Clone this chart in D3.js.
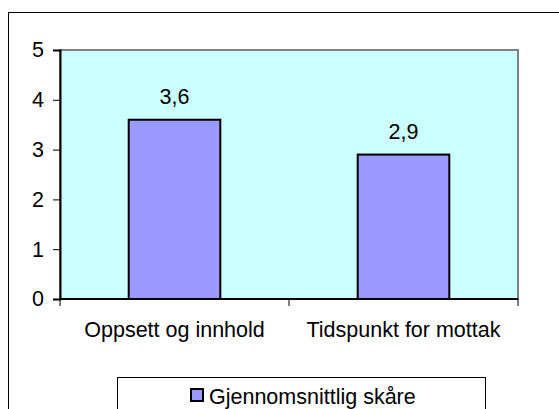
<!DOCTYPE html>
<html>
<head>
<meta charset="utf-8">
<script src="https://cdn.jsdelivr.net/npm/d3@7"></script>
<style>
  html, body { margin: 0; padding: 0; background: #fff; }
  text { font-family: Arial, "Liberation Sans", sans-serif; fill: #000; }
</style>
</head>
<body>
<div id="chart"></div>
<script>
// data
const categories = ["Oppsett og innhold", "Tidspunkt for mottak"];
const scores = [3.6, 2.9];
const seriesName = "Gjennomsnittlig skåre";
const yTicks = [0, 1, 2, 3, 4, 5];

const width = 559;
const height = 409;
const plot = { left: 60, right: 518, top: 50, bottom: 299 };
const fontSize = 21.5;

const svg = d3.select("#chart")
    .append("svg")
    .attr("width", width)
    .attr("height", height);

// outer chart frame (runs off the right and bottom edges)
svg.append("rect")
    .attr("x", 8.5)
    .attr("y", 12.5)
    .attr("width", 700)
    .attr("height", 600)
    .attr("fill", "#fff")
    .attr("stroke", "#000")
    .attr("stroke-width", 1);

const x = d3.scaleBand()
    .domain(categories)
    .range([plot.left, plot.right])
    .paddingInner(0)
    .paddingOuter(0);

const y = d3.scaleLinear()
    .domain([0, 5])
    .range([plot.bottom, plot.top]);

// plot area
svg.append("rect")
    .attr("x", plot.left)
    .attr("y", plot.top)
    .attr("width", plot.right - plot.left)
    .attr("height", plot.bottom - plot.top)
    .attr("fill", "#CCFFFF")
    .attr("stroke", "#808080")
    .attr("stroke-width", 2);

// bars
const barW = x.bandwidth() * 0.4;
svg.selectAll("rect.bar")
    .data(scores)
    .enter().append("rect")
    .attr("class", "bar")
    .attr("x", (d, i) => x(categories[i]) + (x.bandwidth() - barW) / 2)
    .attr("y", d => y(d))
    .attr("width", barW)
    .attr("height", d => y(0) - y(d))
    .attr("fill", "#9999FF")
    .attr("stroke", "#000")
    .attr("stroke-width", 2);

// value labels
svg.selectAll("text.val")
    .data(scores)
    .enter().append("text")
    .attr("class", "val")
    .attr("x", (d, i) => x(categories[i]) + x.bandwidth() / 2)
    .attr("y", d => y(d) - 16)
    .attr("text-anchor", "middle")
    .attr("font-size", fontSize)
    .text(d => d3.format(".1f")(d).replace(".", ","));

// y axis
const yAxis = d3.axisLeft(y)
    .tickValues(yTicks)
    .tickSize(7)
    .tickPadding(9)
    .tickFormat(d3.format("d"));

const gy = svg.append("g")
    .attr("transform", `translate(${plot.left},0)`)
    .call(yAxis);
gy.select(".domain").attr("stroke", "#000").attr("stroke-width", 2);
gy.selectAll(".tick line").attr("stroke", "#000");
gy.selectAll(".tick text")
    .attr("font-size", fontSize)
    .attr("font-family", "Arial, 'Liberation Sans', sans-serif")
    .attr("fill", "#000");

// x axis: line plus boundary ticks
svg.append("line")
    .attr("x1", plot.left)
    .attr("x2", plot.right)
    .attr("y1", plot.bottom)
    .attr("y2", plot.bottom)
    .attr("stroke", "#000")
    .attr("stroke-width", 2);

const bounds = categories.map(c => x(c)).concat([plot.right]);
svg.selectAll("line.xtick")
    .data(bounds)
    .enter().append("line")
    .attr("class", "xtick")
    .attr("x1", d => d)
    .attr("x2", d => d)
    .attr("y1", plot.bottom)
    .attr("y2", plot.bottom + 7)
    .attr("stroke", "#000")
    .attr("stroke-width", 1);

svg.selectAll("text.cat")
    .data(categories)
    .enter().append("text")
    .attr("class", "cat")
    .attr("x", d => x(d) + x.bandwidth() / 2)
    .attr("y", 337)
    .attr("text-anchor", "middle")
    .attr("font-size", fontSize)
    .text(d => d);

// legend
const legend = svg.append("g")
    .attr("transform", "translate(117,377)");

legend.append("rect")
    .attr("x", 0.5)
    .attr("y", 0.5)
    .attr("width", 368)
    .attr("height", 60)
    .attr("fill", "#fff")
    .attr("stroke", "#000")
    .attr("stroke-width", 1);

legend.append("rect")
    .attr("x", 74)
    .attr("y", 12)
    .attr("width", 12)
    .attr("height", 12)
    .attr("fill", "#9999FF")
    .attr("stroke", "#000")
    .attr("stroke-width", 2);

legend.append("text")
    .attr("x", 92)
    .attr("y", 27)
    .attr("font-size", fontSize)
    .text(seriesName);
</script>
</body>
</html>
